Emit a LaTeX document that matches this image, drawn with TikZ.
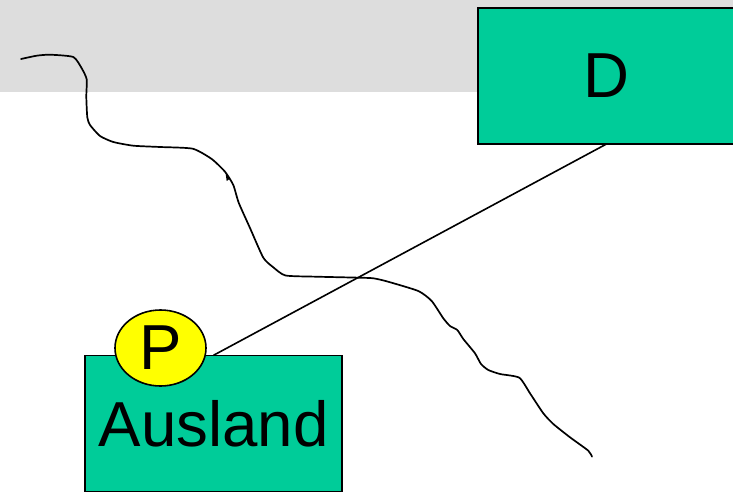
\documentclass[tikz,border=0pt]{standalone}
\usepackage{fontspec}
\setmainfont{Liberation Sans}
\usetikzlibrary{shapes.geometric}
\definecolor{boxgreen}{HTML}{00CC99}
\definecolor{bandgrey}{HTML}{DDDDDD}
\definecolor{markeryellow}{HTML}{FFFF00}
\tikzset{
  landbox/.style={draw=black,fill=boxgreen,line width=1.6pt,rectangle,minimum width=257pt,minimum height=136pt,inner sep=0pt,outer sep=0pt,font=\fontsize{63.6}{70}\selectfont},
  marker/.style={draw=black,fill=markeryellow,line width=1.6pt,ellipse,minimum width=91pt,minimum height=76pt,inner sep=0pt,outer sep=0pt,font=\fontsize{63.6}{70}\selectfont},
  link/.style={draw=black,line width=1.6pt},
  border/.style={draw=black,line width=1.7pt,line join=round,line cap=round}
}
\begin{document}
\begin{tikzpicture}[x=1pt,y=-1pt]
\useasboundingbox (0,0) rectangle (733,492);
\fill[white] (0,0) rectangle (733,492);
\fill[bandgrey] (0,0) rectangle (733,92);
\node[landbox] (de) at (606.5,76) {D};
\node[landbox] (aus) at (213.5,423.3) {\raisebox{-1pt}{Ausland}};
\draw[link] (de.south) -- (aus.north);
\node[marker] (p) at (160.5,348) {\raisebox{-0.5pt}{P}};
\draw[border] plot[smooth,tension=0.35] coordinates {
 (21,59) (36.7,55.7) (50,54.7) (73.3,57) (81.7,68.3) (86.7,79.3) (86.3,96.7) (87.3,117.3) (90,125) (100,136) (113.3,142) (133.3,145.7) (160,147) (192.7,148.7) (211.7,159) (225,171.7) (233.3,185) (238.7,202.7) (250,228) (263.3,257.7) (273.3,267.3) (285.5,275.5) (316.7,276.7) (360,277.7) (373.3,278.3) (386.7,281.3) (418.3,291) (431.7,301) (443.3,318.3) (450,326) (457.3,330) (463.3,339) (475,353.3) (481,364) (488.3,370) (500,374) (519.3,377.7) (530,393.3) (543.3,413.3) (553.3,424) (570,437.3) (588.3,450.7) (592,456.7)};
\fill[black] (225.5,172.5) -- (229.5,179) -- (226.7,181) -- cycle;
\end{tikzpicture}
\end{document}
